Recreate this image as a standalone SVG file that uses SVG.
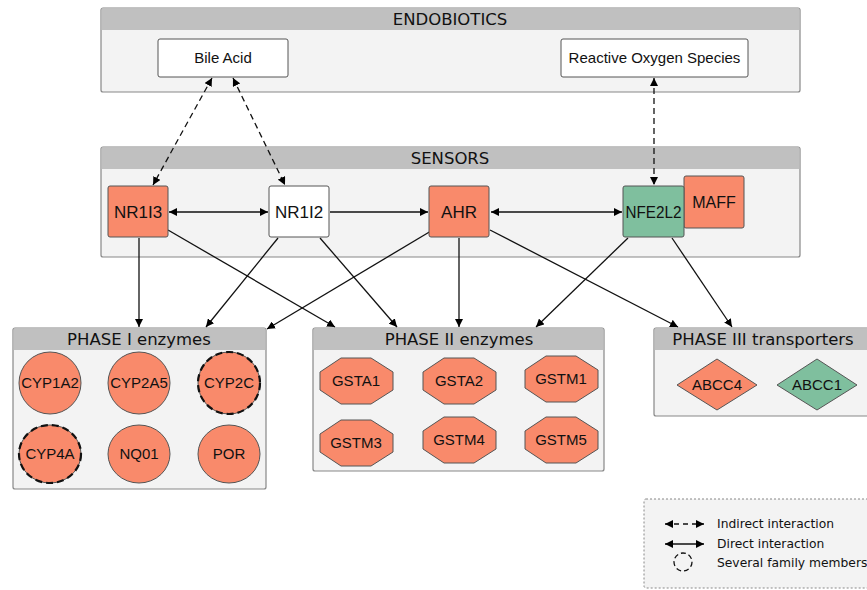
<svg xmlns="http://www.w3.org/2000/svg" width="867" height="590" viewBox="0 0 867 590">
<defs>
<marker id="ah" viewBox="0 0 10 10" refX="10" refY="5" markerWidth="8" markerHeight="8" markerUnits="userSpaceOnUse" orient="auto-start-reverse"><path d="M0,0 L10,5 L0,10 z" fill="#000"/></marker>
<style>
.cb{fill:#f3f3f3;stroke:#888;stroke-width:1.2}
.ch{fill:#c0c0c0}
.ct{font-family:"DejaVu Sans",sans-serif;font-size:16.5px;fill:#111;text-anchor:middle}
.or{fill:#f98a6b;stroke:#555;stroke-width:1}
.gr{fill:#7fbf9e;stroke:#555;stroke-width:1}
.wh{fill:#fff;stroke:#555;stroke-width:1}
.nl{font-family:"Liberation Sans",Arial,sans-serif;font-size:15px;fill:#111;text-anchor:middle}
.sn{font-size:17px}
.fam{fill:none;stroke:#111;stroke-width:2.2;stroke-dasharray:7,4}
.e{stroke:#111;stroke-width:1.3;fill:none;marker-end:url(#ah)}
.d{stroke-dasharray:6,4}
.bi{marker-start:url(#ah)}
.lg{font-family:"DejaVu Sans",sans-serif;font-size:12.3px;fill:#111}
</style>
</defs>
<rect width="867" height="590" fill="#fff"/>

<g id="endobiotics">
<rect class="cb" x="101" y="8" width="699" height="84" rx="2"/>
<rect class="ch" x="101.6" y="8.6" width="697.8" height="21.4"/>
<text class="ct" x="450" y="25">ENDOBIOTICS</text>
</g>
<g id="sensors">
<rect class="cb" x="101" y="147" width="699" height="110" rx="2"/>
<rect class="ch" x="101.6" y="147.6" width="697.8" height="21.4"/>
<text class="ct" x="450" y="164">SENSORS</text>
</g>
<g id="phase1">
<rect class="cb" x="13" y="328" width="253" height="161" rx="2"/>
<rect class="ch" x="13.6" y="328.6" width="251.8" height="21.4"/>
<text class="ct" x="139" y="345">PHASE I enzymes</text>
</g>
<g id="phase2">
<rect class="cb" x="313" y="328" width="291" height="143" rx="2"/>
<rect class="ch" x="313.6" y="328.6" width="289.8" height="21.4"/>
<text class="ct" x="459" y="345">PHASE II enzymes</text>
</g>
<g id="phase3">
<rect class="cb" x="654" y="328" width="230" height="88" rx="2"/>
<rect class="ch" x="654.6" y="328.6" width="228.8" height="21.4"/>
<text class="ct" x="763" y="345">PHASE III transporters</text>
</g>

<g id="connectors">
<line class="e d bi" x1="212" y1="78" x2="153" y2="185"/>
<line class="e d bi" x1="233" y1="78" x2="285" y2="185"/>
<line class="e d bi" x1="654" y1="78" x2="654" y2="185"/>
<line class="e bi" x1="169" y1="212" x2="268" y2="212"/>
<line class="e" x1="330" y1="212" x2="428" y2="212"/>
<line class="e bi" x1="491" y1="212" x2="622" y2="212"/>
<line class="e" x1="139" y1="238" x2="139" y2="327"/>
<line class="e" x1="168" y1="230" x2="335" y2="327"/>
<line class="e" x1="278" y1="238" x2="206" y2="327"/>
<line class="e" x1="320" y1="238" x2="397" y2="327"/>
<line class="e" x1="431" y1="231" x2="267" y2="329"/>
<line class="e" x1="459" y1="238" x2="459" y2="327"/>
<line class="e" x1="490" y1="230" x2="678" y2="327"/>
<line class="e" x1="628" y1="238" x2="536" y2="327"/>
<line class="e" x1="672" y1="238" x2="732" y2="327"/>
</g>

<g id="bile-acid"><rect class="wh" x="158" y="39" width="130" height="38" rx="2"/><text class="nl" x="223" y="63">Bile Acid</text></g>
<g id="ros"><rect class="wh" x="561" y="39" width="187" height="38" rx="2"/><text class="nl" x="654.5" y="63">Reactive Oxygen Species</text></g>

<g id="nr1i3"><rect class="or" x="108" y="186" width="60" height="51" rx="2"/><text class="nl sn" x="138" y="218">NR1I3</text></g>
<g id="nr1i2"><rect class="wh" x="269" y="186" width="60" height="51" rx="2"/><text class="nl sn" x="299" y="218">NR1I2</text></g>
<g id="ahr"><rect class="or" x="429" y="186" width="60" height="51" rx="2"/><text class="nl sn" x="459" y="218">AHR</text></g>
<g id="maff"><rect class="or" x="684" y="176" width="60" height="52" rx="2"/><text class="nl" x="714" y="208" style="font-size:16px">MAFF</text></g>
<g id="nfe2l2"><rect class="gr" x="623" y="186" width="61" height="51" rx="2"/><text class="nl sn" x="653.5" y="218" textLength="56" lengthAdjust="spacingAndGlyphs">NFE2L2</text></g>

<g id="cyp1a2"><ellipse class="or" cx="50" cy="383" rx="31" ry="31"/><text class="nl" x="50" y="388">CYP1A2</text></g>
<g id="cyp2a5"><ellipse class="or" cx="139" cy="383" rx="31" ry="31"/><text class="nl" x="139" y="388">CYP2A5</text></g>
<g id="cyp2c"><ellipse class="or" cx="229" cy="383" rx="31" ry="31"/><ellipse class="fam" cx="229" cy="383" rx="31" ry="31"/><text class="nl" x="229" y="388">CYP2C</text></g>
<g id="cyp4a"><ellipse class="or" cx="50" cy="454" rx="31" ry="29"/><ellipse class="fam" cx="50" cy="454" rx="31" ry="29"/><text class="nl" x="50" y="459">CYP4A</text></g>
<g id="nq01"><ellipse class="or" cx="139" cy="454" rx="31" ry="29"/><text class="nl" x="139" y="459">NQ01</text></g>
<g id="por"><ellipse class="or" cx="229" cy="454" rx="31" ry="29"/><text class="nl" x="229" y="459">POR</text></g>

<g id="gsta1"><polygon class="or" points="341,358 371,358 393,372 393,390 371,404 341,404 320,390 320,372"/><text class="nl" x="356" y="386">GSTA1</text></g>
<g id="gsta2"><polygon class="or" points="444,358 474,358 496,372 496,390 474,404 444,404 423,390 423,372"/><text class="nl" x="459" y="386">GSTA2</text></g>
<g id="gstm1"><polygon class="or" points="546,356 576,356 598,370 598,388 576,402 546,402 525,388 525,370"/><text class="nl" x="561" y="384">GSTM1</text></g>
<g id="gstm3"><polygon class="or" points="341,420 371,420 393,434 393,452 371,466 341,466 320,452 320,434"/><text class="nl" x="356" y="448">GSTM3</text></g>
<g id="gstm4"><polygon class="or" points="444,417 474,417 496,431 496,449 474,463 444,463 423,449 423,431"/><text class="nl" x="459" y="445">GSTM4</text></g>
<g id="gstm5"><polygon class="or" points="546,417 576,417 598,431 598,449 576,463 546,463 525,449 525,431"/><text class="nl" x="561" y="445">GSTM5</text></g>

<g id="abcc4"><polygon class="or" points="717,359 757,385 717,410 677,385"/><text class="nl" x="717" y="390">ABCC4</text></g>
<g id="abcc1"><polygon class="gr" points="817,359 857,385 817,410 777,385"/><text class="nl" x="817" y="390">ABCC1</text></g>

<g id="legend">
<rect x="644" y="499" width="240" height="89" rx="2" fill="#f3f3f3" stroke="#888" stroke-width="1" stroke-dasharray="2,2"/>
<line class="e d bi" x1="665" y1="524" x2="704" y2="524" style="stroke-dasharray:5,4"/>
<line class="e bi" x1="665" y1="544" x2="704" y2="544"/>
<circle cx="683" cy="562" r="9" fill="none" stroke="#111" stroke-width="1.3" stroke-dasharray="5,3"/>
<text class="lg" x="717" y="528">Indirect interaction</text>
<text class="lg" x="717" y="548">Direct interaction</text>
<text class="lg" x="717" y="567">Several family members</text>
</g>
</svg>
